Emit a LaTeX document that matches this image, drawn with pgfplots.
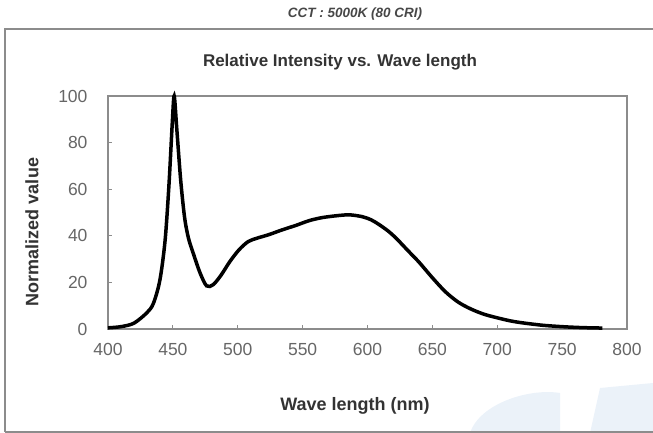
\documentclass[border=0pt]{standalone}
\usepackage{fontspec}
\setmainfont{Liberation Sans}
\usepackage{pgfplots}
\pgfplotsset{compat=1.18}
\definecolor{framegray}{HTML}{8C8C8C}
\definecolor{ticktext}{HTML}{666666}
\definecolor{labeltext}{HTML}{333333}
\definecolor{wm}{HTML}{EBF2F9}
\begin{document}
\begin{tikzpicture}[x=1pt,y=1pt]
\useasboundingbox (0pt,0pt) rectangle (653pt,433pt);
\begin{scope}
\clip (0pt,0pt) rectangle (653pt,433pt);
% faint watermark
\fill[wm] (470pt,0pt) .. controls (480pt,30pt) and (530pt,45pt) .. (560pt,40pt) -- (560pt,0pt) -- cycle;
\fill[wm] (590pt,0pt) -- (600pt,45pt) -- (653pt,50pt) -- (653pt,0pt) -- cycle;
% outer frame
\draw[framegray, line width=2pt] (5pt,1pt) -- (5pt,404pt) -- (660pt,404pt);
\draw[framegray, line width=2pt] (5pt,1pt) -- (660pt,1pt);
\end{scope}
\node[text=labeltext!90!white, font=\fontsize{13.5}{15}\selectfont\bfseries\itshape] at (355pt,419pt) {CCT : 5000K (80 CRI)};
\node[text=labeltext, font=\fontsize{17}{20}\selectfont\bfseries] at (340pt,371pt) {Relative Intensity vs. Wave length};
\node[text=labeltext, font=\fontsize{18}{20}\selectfont\bfseries] at (355pt,27pt) {Wave length (nm)};
\node[text=labeltext, font=\fontsize{18}{20}\selectfont\bfseries, rotate=90] at (32pt,201pt) {Normalized value};
\begin{axis}[
  at={(108pt,104pt)}, anchor=south west,
  scale only axis, width=519pt, height=233pt,
  xmin=400, xmax=800, ymin=0, ymax=100,
  xtick={400,450,...,800}, ytick={0,20,...,100},
  axis line style={framegray, line width=1.3pt},
  tick style={framegray, line width=0.8pt},
  major tick length=4pt,
  tick align=inside,
  xtick pos=bottom, ytick pos=left,
  /pgf/number format/assume math mode=true,
  tick label style={text=ticktext, font=\fontsize{17.5}{20}\selectfont},
  xticklabel style={yshift=-11pt},
  yticklabel style={xshift=-17pt},
  clip=false,
]
\addplot[black, line width=3.5pt, smooth, tension=0.5] coordinates {
(400,0.5) (410,1) (420,2.5) (430,7) (435,11) (440,21) (444,38) (447,62) (449.5,88) (451,100)
(453,86) (456,64) (459,48) (462,39) (466,32) (471,24) (476,18.5) (481,19) (487,23)
(494,29) (501,34) (508,37.5) (515,39) (524,40.5) (534,42.5) (545,44.5) (555,46.5)
(565,47.8) (576,48.6) (586,49) (596,48.2) (603,46.8) (609,44.8) (616,42) (622,39)
(628,35.5) (634,32) (640,28.5) (650,22) (660,16) (670,11.5) (680,8.5) (690,6.3)
(700,4.8) (710,3.5) (720,2.6) (735,1.6) (750,1) (765,0.6) (781,0.4)
};
\end{axis}
\end{tikzpicture}
\end{document}
